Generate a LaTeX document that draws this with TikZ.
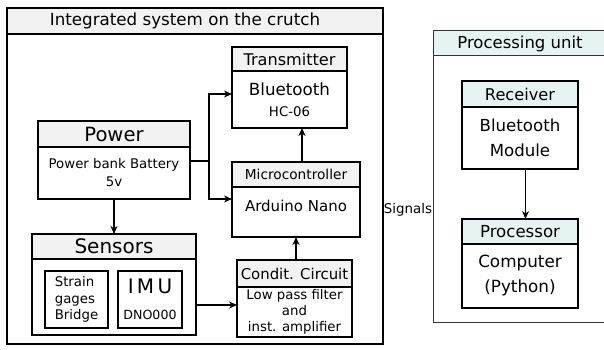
\documentclass[tikz,border=0pt]{standalone}
\usepackage{fontspec}
\setmainfont{DejaVu Sans}
\usetikzlibrary{arrows.meta,positioning}
\definecolor{hgray}{RGB}{242,242,242}
\definecolor{hteal}{RGB}{230,243,243}

\begin{document}
\begin{tikzpicture}[
  x=1pt, y=-1pt,
  head/.style={rectangle, draw, line width=1.6pt, fill=hgray, outer sep=0pt, inner sep=0pt, anchor=north west, font=\fontsize{16.5}{20}\selectfont},
  body/.style={rectangle, draw, line width=1.6pt, fill=white, outer sep=0pt, inner sep=0pt, align=center, font=\fontsize{13.3}{17}\selectfont},
  inbox/.style={rectangle, draw, line width=1.6pt, outer sep=0pt, inner sep=0pt, minimum width=63pt, minimum height=57pt},
  arr/.style={-{Stealth[length=8pt, width=7pt, inset=2.5pt]}, line width=1.2pt},
]
\useasboundingbox (0,0) rectangle (604,350);
% crutch side
\node[head, minimum width=376pt, minimum height=26pt, line width=1.5pt, label={[xshift=-10pt, font=\fontsize{16.7}{20}\selectfont]center:Integrated system on the crutch}] (sysh) at (7,8) {};
\node[body, below=0pt of sysh, minimum width=376pt, minimum height=310pt, line width=1.5pt] (sys) {};
% processing side
\node[head, fill=hteal, draw=black!80, line width=1pt, minimum width=174pt, minimum height=25pt] (puh) at (433,31) {Processing unit};
\node[body, below=0pt of puh, draw=black!80, line width=1pt, minimum width=174pt, minimum height=266pt] (pu) {};

\node[head, minimum width=115pt, minimum height=24pt, font=\fontsize{16.1}{19}\selectfont] (txh) at (232,47) {Transmitter};
\node[body, below=0pt of txh, minimum width=115pt, minimum height=57pt] (tx) {{\fontsize{16.7}{20}\selectfont Bluetooth}\\[4pt]HC-06};

\node[head, minimum width=152pt, minimum height=26pt, font=\fontsize{19.6}{23}\selectfont] (powh) at (38,121) {Power};
\node[body, below=0pt of powh, minimum width=152pt, minimum height=52pt, font=\fontsize{13.3}{18}\selectfont] (pow) {Power bank Battery\\5v};

\node[head, minimum width=128pt, minimum height=25pt, font=\fontsize{13.7}{16}\selectfont] (mch) at (232,162) {Microcontroller};
\node[body, below=0pt of mch, minimum width=128pt, minimum height=50pt, font=\fontsize{15}{18}\selectfont] (mc) {\raisebox{12pt}{Arduino Nano}};

\node[head, minimum width=164pt, minimum height=25pt, font=\fontsize{20}{24}\selectfont] (sensh) at (32,234) {Sensors};
\node[body, below=0pt of sensh, minimum width=164pt, minimum height=76pt] (sens) {};
\node[inbox, anchor=north west, below right=12pt and 13pt of sens.north west, align=left, font=\fontsize{13.3}{16.5}\selectfont] (strain) {Strain\\gages\\Bridge};
\node[inbox, right=10pt of strain, minimum width=64pt, align=center] (imu) {{\fontsize{20}{24}\selectfont I\,M\,U}\\[14pt]{\fontsize{12.6}{15}\selectfont DNO000}};

\node[head, minimum width=115pt, minimum height=27pt, font=\fontsize{14.9}{18}\selectfont] (cch) at (237,260) {Condit. Circuit};
\node[body, below=0pt of cch, minimum width=115pt, minimum height=50pt, font=\fontsize{13.3}{16}\selectfont] (cc) {Low pass filter\\and\\inst. amplifier};

\node[head, fill=hteal, minimum width=116pt, minimum height=26pt, font=\fontsize{16.2}{19}\selectfont] (rxh) at (462,81) {Receiver};
\node[body, below=0pt of rxh, minimum width=116pt, minimum height=62pt, font=\fontsize{16.6}{25}\selectfont] (rx) {Bluetooth\\Module};

\node[head, fill=hteal, minimum width=116pt, minimum height=25pt, font=\fontsize{16.6}{19}\selectfont] (prh) at (462,219) {Processor};
\node[body, below=0pt of prh, minimum width=116pt, minimum height=64pt, font=\fontsize{16.8}{25}\selectfont] (pr) {Computer\\(Python)};

\node[font=\fontsize{13.4}{16}\selectfont] (sig) at (408,210) {Signals};

% connections
\coordinate (split) at (209,161);
\draw[line width=1.2pt] ([yshift=12pt]pow.east) -- (split);
\draw[arr] (split) |- ([yshift=5.5pt]tx.west);
\draw[arr] (split) |- ([yshift=13pt]mc.west);
\draw[arr] (pow) -- (sensh);
\draw[arr] ([xshift=6pt]mch.north) -- ([xshift=6pt]mch.north |- tx.south);
\draw[arr] ([xshift=1.5pt]cch.north) -- ([xshift=1.5pt]cch.north |- mc.south);
\draw[arr] ([yshift=-8pt]sens.east) -- ([yshift=-8pt]sens.east -| cc.west);
\draw[arr] ([xshift=5.5pt]rx.south) -- ([xshift=5.5pt]rx.south |- prh.north);
\end{tikzpicture}
\end{document}
